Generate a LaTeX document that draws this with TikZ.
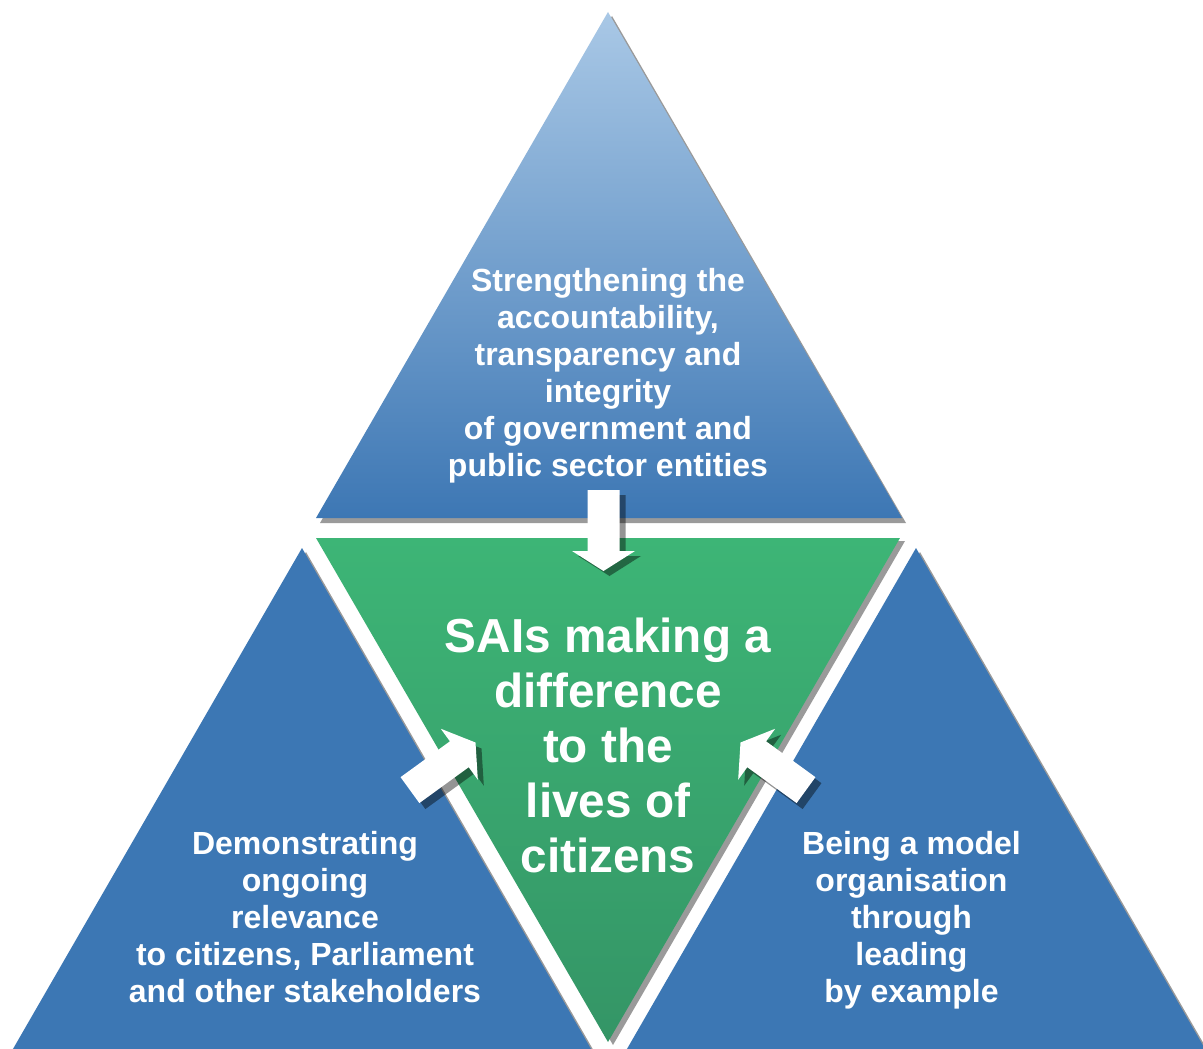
\documentclass[tikz,border=0pt]{standalone}
\usepackage{fontspec}
\setmainfont{Liberation Sans}
\definecolor{triblue}{HTML}{3C77B4}
\definecolor{toplight}{HTML}{A9C8E6}
\definecolor{topdark}{HTML}{3D77B4}
\definecolor{greentop}{HTML}{3DB576}
\definecolor{greenbot}{HTML}{349566}
\definecolor{shadowgray}{HTML}{9A9A9A}
\tikzset{
  trishadow/.style={fill=shadowgray},
  label32/.style={text=white, align=center, font=\fontsize{32}{37}\selectfont\bfseries, inner sep=0pt},
  label48/.style={text=white, align=center, font=\fontsize{47.7}{55}\selectfont\bfseries, inner sep=0pt},
  pics/arrowshadow/.style={code={
    \fill[black, opacity=0.42] (-81,-16) -- (-20,-16) -- (-20,-31.5) -- (0,0) -- (-20,31.5) -- (-20,16) -- (-81,16) -- cycle;
  }},
  pics/arrowbody/.style={code={
    \fill[white] (-81,-16) -- (-20,-16) -- (-20,-31.5) -- (0,0) -- (-20,31.5) -- (-20,16) -- (-81,16) -- cycle;
  }}
}
\begin{document}
\begin{tikzpicture}[x=1pt,y=-1pt]
\useasboundingbox (0,0) rectangle (1203,1049);
\clip (0,0) rectangle (1203,1049);
\fill[white] (0,0) rectangle (1203,1049);
% shadows
\fill[trishadow] (612,16) -- (320,523) -- (906,523) -- cycle;
\fill[trishadow] (306,552) -- (6,1072) -- (606,1072) -- cycle;
\fill[trishadow] (920,552) -- (620,1072) -- (1220,1072) -- cycle;
\fill[trishadow] (321,541) -- (905,541) -- (613,1045) -- cycle;
% triangles
\shade[top color=toplight, bottom color=topdark] (608,12) -- (316,518) -- (902,518) -- cycle;
\fill[triblue] (302,548) -- (2,1068) -- (602,1068) -- cycle;
\fill[triblue] (916,548) -- (616,1068) -- (1216,1068) -- cycle;
\shade[top color=greentop, bottom color=greenbot] (316,538) -- (900,538) -- (608,1042) -- cycle;
% arrows (tip positions)
\coordinate (tipTop) at (603.5,571);
\coordinate (tipLeft) at (475.5,742.5);
\coordinate (tipRight) at (740.5,742.5);
\pic[shift={(tipTop)}, shift={(6,5)}, rotate=-90] {arrowshadow};
\pic[shift={(tipTop)}, rotate=-90] {arrowbody};
\pic[shift={(tipLeft)}, shift={(6,6)}, rotate=36] {arrowshadow};
\pic[shift={(tipLeft)}, rotate=36] {arrowbody};
\pic[shift={(tipRight)}, shift={(6,6)}, rotate=144] {arrowshadow};
\pic[shift={(tipRight)}, rotate=144] {arrowbody};
% texts
\node[label32] (topText) at (608,375.5) {Strengthening the\\accountability,\\transparency and\\integrity\\of government and\\public sector entities};
\node[label48] (centerText) at (608,745) {SAIs making a\\difference\\to the\\lives of\\citizens};
\node[label32] (leftText) at (305,917) {Demonstrating\\ongoing\\relevance\\to citizens, Parliament\\and other stakeholders};
\node[label32] (rightText) at (911.5,920) {Being a model\\organisation\\through\\leading\\by example};
\end{tikzpicture}
\end{document}
